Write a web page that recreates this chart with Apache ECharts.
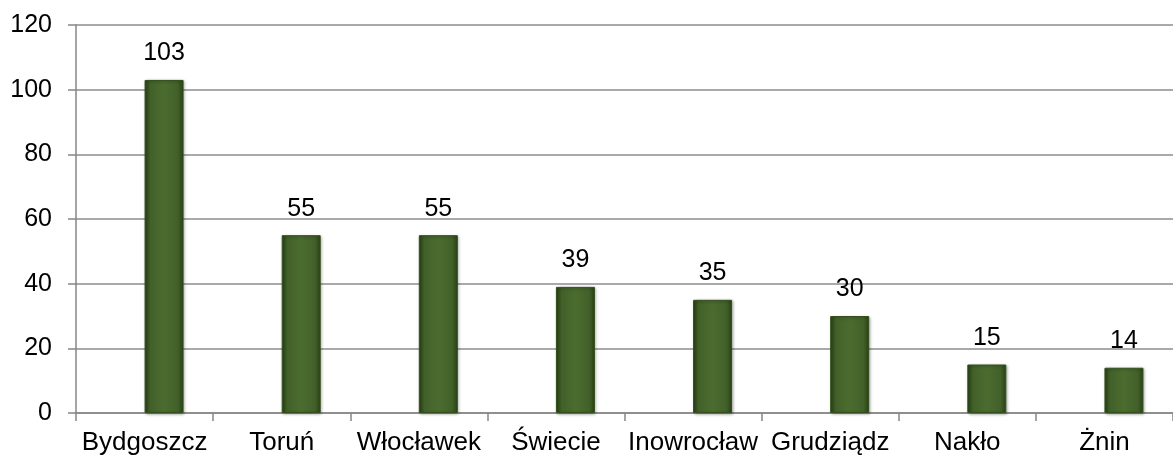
<!DOCTYPE html>
<html><head><meta charset="utf-8">
<script src="https://cdn.jsdelivr.net/npm/echarts@6/dist/echarts.min.js"></script>
<style>html,body{margin:0;padding:0;background:#fff}#c{width:1173px;height:456px}</style>
</head><body><div id="c"></div>
<script>
const categories = ['Bydgoszcz','Toruń','Włocławek','Świecie','Inowrocław','Grudziądz','Nakło','Żnin'];
const values = [103,55,55,39,35,30,15,14];
const placeholder = categories.map(() => null);
const yTicks = {min:0, max:120, interval:20};

const chart = echarts.init(document.getElementById('c'));
const font = 'Liberation Sans, Arial, sans-serif';
chart.setOption({
  animation:false,
  grid:{left:76, top:25, width:1110, bottom:43, containLabel:false},
  xAxis:{type:'category', data:categories,
    axisLine:{lineStyle:{color:'#868686', width:1.5}},
    axisTick:{show:true, length:8, lineStyle:{color:'#868686', width:1.5}},
    axisLabel:{color:'#000', fontSize:26, fontFamily:font, margin:17, interval:0}},
  yAxis:{type:'value', min:yTicks.min, max:yTicks.max, interval:yTicks.interval,
    axisLine:{show:true, lineStyle:{color:'#868686', width:1.5}},
    axisTick:{show:true, length:8, lineStyle:{color:'#868686', width:1.5}},
    splitLine:{lineStyle:{color:'#8c8c8c', width:1.5}},
    axisLabel:{color:'#000', fontSize:25, fontFamily:font, margin:24}},
  series:[
    {type:'bar', data:placeholder, barWidth:39, barGap:'0%', silent:true},
    {type:'bar', data:values, barWidth:39, barGap:'0%',
     itemStyle:{
       color:new echarts.graphic.LinearGradient(0,0,1,0,[
         {offset:0,color:'#2a4215'},{offset:0.15,color:'#42612a'},
         {offset:0.5,color:'#4b6c2f'},{offset:0.85,color:'#42612a'},{offset:1,color:'#2a4215'}]),
       borderColor:'#33501c', borderWidth:1,
       shadowColor:'rgba(0,0,0,0.35)', shadowBlur:3, shadowOffsetX:1, shadowOffsetY:1},
     label:{show:true, position:'top', distance:14, color:'#000', fontSize:25, fontFamily:font}}
  ]
});
</script></body></html>
